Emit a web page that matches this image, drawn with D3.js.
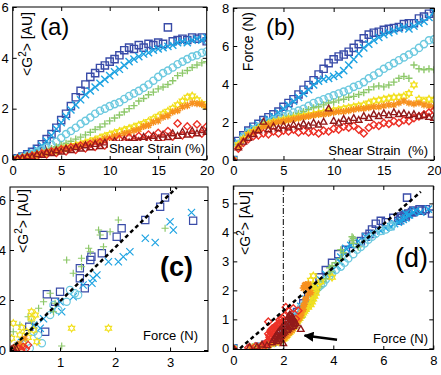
<!DOCTYPE html>
<html>
<head>
<meta charset="utf-8">
<script src="https://cdn.jsdelivr.net/npm/d3@7"></script>
<style>
body { margin: 0; background: #fff; }
svg { display: block; font-family: "Liberation Sans", Arial, sans-serif; }
</style>
</head>
<body>
<svg id="fig" width="441" height="375"></svg>
<script>
// strain steps shared by panels (a), (b) and (d)
var strain = [0,0.5,1,1.5,2,2.5,3,3.5,4,4.5,5,5.5,6,6.5,7,7.5,8,8.5,9,9.5,10,
              10.5,11,11.5,12,12.5,13,13.5,14,14.5,15,15.5,16,16.5,17,17.5,18,18.5,19,19.5,20];

// <G^2> vs strain (panel a)
var g2Sq = [0,0.05,0.12,0.2,0.3,0.42,0.6,0.8,1.0,1.25,1.55,1.8,2.1,2.45,2.7,2.95,3.25,3.4,3.6,3.7,3.85,
            3.95,4.1,4.3,4.4,4.35,4.5,4.4,4.55,4.5,4.6,4.55,5.2,4.65,4.7,4.75,4.7,4.8,4.75,4.8,4.65];
var g2Xb = [0,0.04,0.1,0.18,0.28,0.4,0.55,0.72,0.95,1.2,1.45,1.7,1.95,2.15,2.35,2.55,2.7,2.85,3.0,3.15,3.3,
            3.45,3.55,3.7,3.85,3.95,4.05,4.15,4.2,4.3,4.35,4.4,4.45,4.5,4.6,4.65,4.6,4.7,4.75,4.7,4.8];
var g2Ci = [0,0.04,0.09,0.15,0.22,0.3,0.38,0.47,0.58,0.7,0.85,1.0,1.12,1.25,1.4,1.52,1.65,1.8,1.92,2.0,2.1,
            2.18,2.25,2.38,2.5,2.6,2.7,2.82,2.95,3.1,3.25,3.4,3.5,3.62,3.75,3.85,3.95,4.05,4.1,4.2,4.25];
var g2Pl = [0,0.03,0.08,0.13,0.19,0.25,0.3,0.37,0.43,0.5,0.57,0.64,0.72,0.8,0.88,0.97,1.07,1.18,1.28,1.4,1.52,
            1.63,1.75,1.87,2.0,2.12,2.3,2.4,2.55,2.65,2.78,2.85,2.95,3.1,3.3,3.4,3.5,3.62,3.72,3.8,3.85];
var g2Hx = [0,0.03,0.07,0.11,0.15,0.19,0.23,0.27,0.31,0.35,0.4,0.45,0.5,0.55,0.6,0.66,0.72,0.78,0.85,0.92,0.98,
            1.04,1.1,1.16,1.22,1.28,1.35,1.42,1.5,1.6,1.7,1.8,1.9,2.02,2.15,2.3,2.45,2.5,2.35,2.2,2.1];
var g2Or = [0,0.04,0.06,0.12,0.13,0.2,0.21,0.28,0.29,0.36,0.37,0.44,0.45,0.52,0.54,0.62,0.63,0.72,0.73,0.82,0.84,
            0.92,0.94,1.02,1.05,1.14,1.18,1.3,1.34,1.47,1.52,1.67,1.72,1.87,1.92,2.07,2.12,2.22,2.2,2.17,2.08];
var g2Di = [0,0.02,0.07,0.06,0.15,0.12,0.24,0.2,0.32,0.26,0.4,0.32,0.48,0.38,0.55,0.44,0.62,0.5,0.68,0.55,0.74,
            0.6,0.8,0.66,0.86,0.7,0.92,0.75,0.98,0.8,1.05,0.85,1.12,0.9,1.42,0.95,1.3,1.0,1.38,1.02,1.3];
var g2Tr = [0,0.04,0.05,0.12,0.1,0.2,0.17,0.28,0.24,0.35,0.3,0.42,0.36,0.48,0.42,0.55,0.47,0.6,0.52,0.66,0.57,
            0.72,0.62,0.77,0.67,0.82,0.72,0.88,0.77,0.92,0.82,0.97,0.87,1.02,0.92,1.08,0.97,1.12,1.02,1.15,1.08];

// force vs strain (panel b)
var fSq = [0,1.0,1.3,1.55,1.75,1.9,2.1,2.25,2.4,2.55,2.8,3.0,3.2,3.45,3.7,3.95,4.2,4.5,4.8,5.1,5.3,
           5.45,5.55,5.7,5.9,6.1,6.4,6.6,6.7,6.75,6.85,6.9,6.95,7.0,7.15,7.2,7.2,7.45,7.55,7.7,7.95];
var fXb = [0,0.9,1.25,1.5,1.7,1.85,2.0,2.15,2.3,2.5,2.7,2.9,3.1,3.3,3.5,3.7,3.95,4.15,4.25,4.3,4.4,
           4.5,4.7,5.0,5.3,5.6,5.9,6.1,6.3,6.45,6.6,6.7,6.8,6.9,7.0,6.9,7.05,7.2,7.3,7.5,7.8];
var fCi = [0,0.85,1.2,1.45,1.6,1.75,1.9,2.0,2.1,2.2,2.3,2.4,2.5,2.6,2.7,2.85,3.0,3.1,3.2,3.3,3.4,
           3.5,3.6,3.7,3.85,3.95,4.1,4.3,4.45,4.6,4.8,4.95,5.1,5.25,5.4,5.55,5.7,5.9,6.1,6.3,6.35];
var fPl = [0,0.8,1.15,1.4,1.55,1.7,1.8,1.9,2.0,2.1,2.2,2.3,2.35,2.45,2.55,2.65,2.75,2.8,2.9,3.0,3.05,
           3.15,3.2,3.3,3.35,3.45,3.55,3.7,3.85,3.9,3.85,3.95,4.1,4.3,4.4,4.3,5.0,4.8,4.75,4.8,4.75];
var fHx = [0,0.8,1.1,1.35,1.5,1.65,1.8,1.9,2.0,2.05,2.1,2.15,2.2,2.25,2.3,2.35,2.4,2.45,2.5,2.55,2.6,
           2.65,2.7,2.75,2.8,2.85,2.9,3.0,3.1,3.15,3.2,3.25,3.3,3.3,3.35,3.5,3.95,3.2,3.1,3.2,3.15];
var fOr = [0,0.7,1.05,1.3,1.45,1.6,1.75,1.85,1.95,2.0,2.05,2.1,2.15,2.2,2.25,2.3,2.35,2.4,2.4,2.45,2.5,
           2.55,2.55,2.6,2.65,2.7,2.7,2.75,2.8,2.8,2.85,2.9,2.9,3.0,3.1,3.0,2.95,3.0,2.9,2.85,2.8];
var fDi = [0,0.6,0.9,1.1,1.25,1.3,1.4,1.35,1.5,1.4,1.55,1.5,1.6,1.45,1.55,1.45,1.5,1.4,1.55,1.5,1.65,
           1.6,1.75,1.7,1.8,1.6,1.4,1.7,1.85,1.8,1.95,1.9,2.05,1.95,2.1,2.05,2.2,2.3,2.4,2.5,2.6];
var fTr = [0,0.65,0.95,1.15,1.35,1.55,2.0,1.6,1.75,1.65,1.8,1.7,1.85,1.75,1.9,1.8,1.95,1.85,2.0,2.7,2.05,
           1.95,2.15,2.05,2.2,2.1,2.3,2.2,2.4,2.3,2.45,2.35,2.5,2.4,2.45,2.35,2.4,2.3,2.35,2.25,2.2];

// panel (c): [force, <G^2>] pairs
var cSq = [[0.44,0.93],[0.73,0.73],[0.76,2.23],[0.91,1.93],[1.0,2.33],[1.36,2.87],[1.36,3.27],[1.45,2.47],
           [1.55,3.6],[1.57,3.73],[1.76,3.87],[1.79,4.6],[2.03,4.53],[2.12,4.87],[2.55,5.2],[2.82,5.73],
           [2.91,6.1],[3.42,5.17]];
var cXb = [[0.3,0.3],[0.52,1.0],[0.64,0.87],[0.7,1.25],[0.88,1.6],[1.0,1.93],[1.03,1.53],[1.24,2.13],
           [1.42,2.6],[1.58,2.67],[1.6,2.87],[1.67,3.0],[1.88,3.53],[2.06,3.53],[2.15,3.73],[2.27,3.93],
           [2.55,4.47],[2.73,4.3],[3.0,5.13],[3.06,4.8],[3.39,5.5]];
var cCi = [[0.24,0.2],[0.33,0.33],[0.45,0.07],[0.52,0.73],[0.6,0.6],[0.67,0.27],[0.82,1.4],[0.88,1.8],
           [0.97,1.6],[1.12,1.93],[1.18,2.4],[1.27,2.27],[1.33,2.2]];
var cPl = [[0.15,0.73],[0.27,1.0],[0.42,1.33],[0.48,1.13],[0.61,1.67],[0.7,1.93],[0.82,2.27],[0.88,1.53],
           [0.91,1.87],[1.03,0.16],[1.12,3.6],[1.24,3.07],[1.39,3.33],[1.39,3.67],[1.52,4.07],[1.55,3.93],
           [1.7,4.8],[1.73,4.6],[1.79,4.13],[1.91,4.73],[2.06,5.2],[2.91,4.87]];
var cHx = [[0.12,0.47],[0.15,1.07],[0.21,0.13],[0.27,0.6],[0.3,0.9],[0.33,0.33],[0.39,0.73],[0.42,0.5],
           [0.48,1.27],[0.48,1.53],[0.52,0.8],[0.55,1.4],[0.58,0.33],[1.21,0.87],[1.88,0.87]];
var cOr = [[0.18,0.07],[0.22,0.2],[0.27,0.27],[0.3,0.12],[0.36,0.47]];
var cDi = [[0.24,0.07],[0.3,0.0],[0.33,0.13],[0.38,0.05],[0.42,0.2]];
var cTr = [[0.09,0.0],[0.12,0.02],[0.15,0.07],[0.21,0.03]];

// fitted lines and markers
var fitC = [[0.09,0],[3.12,6.5]];
var fitD = [[0.27,0],[7.5,5.4]];
var forceThreshold = 2;
var arrowD = [[4.15,0.3],[2.85,0.44]];

var series = [
  {shape: "square",   color: "#3a4ca8", g2: g2Sq, f: fSq, c: cSq},
  {shape: "x",        color: "#1ea3e2", g2: g2Xb, f: fXb, c: cXb},
  {shape: "circle",   color: "#6cc9df", g2: g2Ci, f: fCi, c: cCi},
  {shape: "plus",     color: "#8dc86a", g2: g2Pl, f: fPl, c: cPl},
  {shape: "hexagram", color: "#f2e01e", g2: g2Hx, f: fHx, c: cHx},
  {shape: "asterisk", color: "#f7901e", g2: g2Or, f: fOr, c: cOr},
  {shape: "diamond",  color: "#ec3228", g2: g2Di, f: fDi, c: cDi},
  {shape: "triangle", color: "#921a1a", g2: g2Tr, f: fTr, c: cTr}
];

function markerPath(shape, r) {
  var p = d3.path();
  if (shape == "square") { p.rect(-r, -r, 2 * r, 2 * r); }
  else if (shape == "x") { p.moveTo(-r, -r); p.lineTo(r, r); p.moveTo(-r, r); p.lineTo(r, -r); }
  else if (shape == "circle") { p.moveTo(r, 0); p.arc(0, 0, r, 0, 2 * Math.PI); }
  else if (shape == "plus") { p.moveTo(-r, 0); p.lineTo(r, 0); p.moveTo(0, -r); p.lineTo(0, r); }
  else if (shape == "asterisk") {
    p.moveTo(-r, 0); p.lineTo(r, 0); p.moveTo(0, -r); p.lineTo(0, r);
    var k = r * 0.72;
    p.moveTo(-k, -k); p.lineTo(k, k); p.moveTo(-k, k); p.lineTo(k, -k);
  }
  else if (shape == "diamond") { p.moveTo(0, -r); p.lineTo(r, 0); p.lineTo(0, r); p.lineTo(-r, 0); p.closePath(); }
  else if (shape == "triangle") { p.moveTo(0, -r); p.lineTo(r * 0.9, r * 0.6); p.lineTo(-r * 0.9, r * 0.6); p.closePath(); }
  else if (shape == "hexagram") {
    for (var i = 0; i < 12; i++) {
      var a = -Math.PI / 2 + i * Math.PI / 6, rr = i % 2 ? r * 0.58 : r;
      if (i == 0) p.moveTo(rr * Math.cos(a), rr * Math.sin(a)); else p.lineTo(rr * Math.cos(a), rr * Math.sin(a));
    }
    p.closePath();
  }
  return p.toString();
}

var svg = d3.select("#fig");
var defs = svg.append("defs");
var fmt = d3.format("d");

function makePanel(id, left, right, bottom, top, xdom, ydom, xticks, yticks) {
  var x = d3.scaleLinear().domain(xdom).range([left, right]);
  var y = d3.scaleLinear().domain(ydom).range([bottom, top]);
  defs.append("clipPath").attr("id", "clip-" + id)
    .append("rect").attr("x", left).attr("y", top).attr("width", right - left).attr("height", bottom - top);
  var g = svg.append("g");
  var plot = g.append("g").attr("clip-path", "url(#clip-" + id + ")");
  var axes = g.append("g").attr("class", "axes");
  axes.append("g").attr("transform", "translate(0," + bottom + ")")
    .call(d3.axisBottom(x).tickValues(xticks).tickSize(-4).tickPadding(6).tickFormat(fmt));
  axes.append("g").attr("transform", "translate(0," + top + ")")
    .call(d3.axisTop(x).tickValues(xticks).tickSize(-4).tickFormat(""));
  axes.append("g").attr("transform", "translate(" + left + ",0)")
    .call(d3.axisLeft(y).tickValues(yticks).tickSize(-4).tickPadding(4).tickFormat(fmt));
  axes.append("g").attr("transform", "translate(" + right + ",0)")
    .call(d3.axisRight(y).tickValues(yticks).tickSize(-4).tickFormat(""));
  axes.selectAll(".domain").remove();
  axes.selectAll("text").attr("font-size", 13).attr("font-family", "Liberation Sans, Arial, sans-serif").attr("fill", "#000");
  axes.selectAll("line").attr("stroke", "#000");
  axes.append("rect").attr("x", left).attr("y", top).attr("width", right - left).attr("height", bottom - top)
    .attr("fill", "none").attr("stroke", "#000").attr("stroke-width", 1);
  return {x: x, y: y, g: g, plot: plot, axes: axes};
}

function drawMarkers(P, pts, s, r, w) {
  P.plot.append("g").selectAll("path").data(pts).enter().append("path")
    .attr("transform", function(d) { return "translate(" + P.x(d[0]) + "," + P.y(d[1]) + ")"; })
    .attr("d", markerPath(s.shape, r))
    .attr("fill", "none")
    .attr("stroke", s.color)
    .attr("stroke-width", w);
}

function yLabel(P, cx, topY, parts) {
  var t = P.g.append("text")
    .attr("transform", "translate(" + cx + "," + topY + ") rotate(-90)")
    .attr("text-anchor", "end").attr("dominant-baseline", "central")
    .attr("font-size", 14);
  parts.forEach(function(p) {
    var ts = t.append("tspan").text(p[0]);
    if (p[1]) ts.attr("font-size", 10).attr("dy", -5);
    else if (p[2]) ts.attr("dy", 5);
  });
}

function xLabel(P, rightX, baseY, txt) {
  var bg = P.g.append("rect").attr("fill", "#fff");
  var t = P.g.append("text").attr("x", rightX).attr("y", baseY)
    .attr("text-anchor", "end").attr("font-size", 13).text(txt)
    .style("white-space", "pre");
  var b = t.node().getBBox();
  bg.attr("x", b.x - 1).attr("y", b.y).attr("width", b.width + 2).attr("height", b.height);
}

function tag(P, x0, y0, txt, size, weight) {
  P.g.append("text").attr("x", x0).attr("y", y0).attr("font-size", size)
    .attr("font-weight", weight || "normal").text(txt);
}

var G2 = [["<G"], ["2", true], ["> [AU]", false, true]];

// (a)
var A = makePanel("a", 12.7, 206.7, 159.5, 7, [0, 20], [0, 6], [0, 5, 10, 15, 20], [0, 2, 4, 6]);
series.forEach(function(s) {
  drawMarkers(A, strain.map(function(e, i) { return [e, s.g2[i]]; }), s, 3.6, 1.4);
});
xLabel(A, 205, 153, "Shear Strain (%)");
yLabel(A, 27, 12, G2);
tag(A, 40, 35, "(a)", 24);

// (b)
var B = makePanel("b", 233.3, 434, 160, 8, [0, 20], [0, 8], [0, 5, 10, 15, 20], [0, 2, 4, 6, 8]);
series.forEach(function(s) {
  drawMarkers(B, strain.map(function(e, i) { return [e, s.f[i]]; }), s, 3.6, 1.4);
});
xLabel(B, 428, 155, "Shear Strain  (%)");
yLabel(B, 248, 12, [["Force (N)"]]);
tag(B, 266, 35, "(b)", 24);

// (c)
var C = makePanel("c", 10, 208, 351.5, 187, [0.09, 3.69], [-0.06, 6.52], [1, 2, 3], [0, 2, 4, 6]);
series.forEach(function(s) { drawMarkers(C, s.c, s, 3.6, 1.2); });
C.plot.append("path").datum(fitC)
  .attr("d", d3.line().x(function(d) { return C.x(d[0]); }).y(function(d) { return C.y(d[1]); }))
  .attr("stroke", "#000").attr("stroke-width", 2.5).attr("stroke-dasharray", "4,3").attr("fill", "none");
xLabel(C, 198, 340, "Force (N)");
yLabel(C, 23, 189, G2);
tag(C, 160, 276, "(c)", 27, "bold");

// (d)
var D = makePanel("d", 233.3, 433.3, 349.5, 186, [0, 8], [-0.04, 5.6], [0, 2, 4, 6, 8], [0, 1, 2, 3, 4, 5]);
series.forEach(function(s) {
  drawMarkers(D, strain.map(function(e, i) { return [s.f[i], s.g2[i]]; }), s, 3.6, 1.4);
});
D.plot.append("path").datum(fitD)
  .attr("d", d3.line().x(function(d) { return D.x(d[0]); }).y(function(d) { return D.y(d[1]); }))
  .attr("stroke", "#000").attr("stroke-width", 2.5).attr("stroke-dasharray", "4,3").attr("fill", "none");
D.plot.append("line")
  .attr("x1", D.x(forceThreshold)).attr("x2", D.x(forceThreshold))
  .attr("y1", D.y(D.y.domain()[1])).attr("y2", D.y(D.y.domain()[0]))
  .attr("stroke", "#000").attr("stroke-width", 1).attr("stroke-dasharray", "6,2,1,2");
defs.append("marker").attr("id", "head").attr("viewBox", "0 0 10 10").attr("refX", 9).attr("refY", 5)
  .attr("markerWidth", 4).attr("markerHeight", 4).attr("orient", "auto")
  .append("path").attr("d", "M0,0L10,5L0,10Z").attr("fill", "#000");
D.g.append("line")
  .attr("x1", D.x(arrowD[0][0])).attr("y1", D.y(arrowD[0][1]))
  .attr("x2", D.x(arrowD[1][0])).attr("y2", D.y(arrowD[1][1]))
  .attr("stroke", "#000").attr("stroke-width", 2.5).attr("marker-end", "url(#head)");
xLabel(D, 428, 343, "Force (N)");
yLabel(D, 245, 191, G2);
tag(D, 395, 267, "(d)", 27);
</script>
</body>
</html>
